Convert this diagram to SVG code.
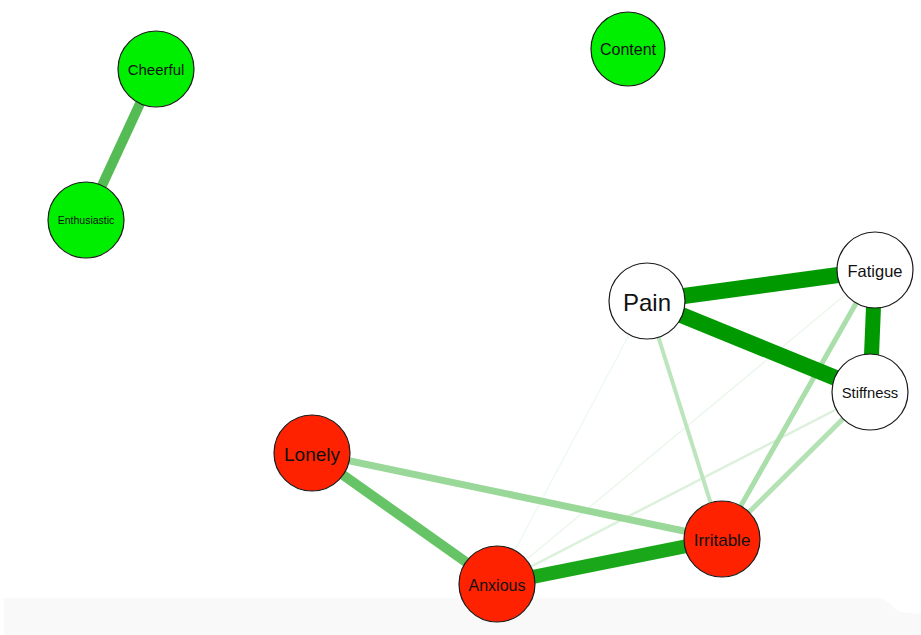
<svg xmlns="http://www.w3.org/2000/svg" width="921" height="635" viewBox="0 0 921 635">
<style>
.n{stroke:#1a1a1a;stroke-width:1.2}
.g{fill:#00ee00}.w{fill:#ffffff}.r{fill:#ff2200}
text{font-family:"Liberation Sans",Arial,sans-serif;fill:#111;text-anchor:middle;dominant-baseline:central}
line{stroke-linecap:butt}
</style>
<rect x="0" y="0" width="921" height="635" fill="#ffffff"/>
<path d="M4,598 H876 Q886,598 892,606 Q898,613 910,613 L921,614 V635 H4 Z" fill="#f9f9f9"/>
<g id="edges">
<line x1="156" y1="69" x2="86" y2="220" stroke="#55bb55" stroke-width="10"/>
<line x1="647" y1="301" x2="497" y2="584" stroke="#f0f9f0" stroke-width="1.5"/>
<line x1="875" y1="270" x2="497" y2="584" stroke="#ebf7eb" stroke-width="1.5"/>
<line x1="870" y1="392" x2="497" y2="584" stroke="#dcf1dc" stroke-width="2.5"/>
<line x1="647" y1="301" x2="722" y2="539" stroke="#bde5bd" stroke-width="4"/>
<line x1="875" y1="270" x2="722" y2="539" stroke="#aadeaa" stroke-width="5"/>
<line x1="870" y1="392" x2="722" y2="539" stroke="#b5e2b5" stroke-width="5"/>
<line x1="312" y1="453" x2="722" y2="539" stroke="#99d899" stroke-width="7"/>
<line x1="312" y1="453" x2="497" y2="584" stroke="#66c466" stroke-width="10"/>
<line x1="497" y1="584" x2="722" y2="539" stroke="#1aa81a" stroke-width="14"/>
<line x1="647" y1="301" x2="875" y2="270" stroke="#009900" stroke-width="16"/>
<line x1="647" y1="301" x2="870" y2="392" stroke="#009900" stroke-width="16"/>
<line x1="875" y1="270" x2="870" y2="392" stroke="#009900" stroke-width="15"/>
</g>
<g id="cheerful"><circle class="n g" cx="156" cy="69" r="38"/><text x="156" y="69" font-size="15">Cheerful</text></g>
<g id="enthusiastic"><circle class="n g" cx="86" cy="220" r="38"/><text x="86" y="220" font-size="10.5">Enthusiastic</text></g>
<g id="content"><circle class="n g" cx="628" cy="49" r="37"/><text x="628" y="49" font-size="16">Content</text></g>
<g id="pain"><circle class="n w" cx="647" cy="301" r="38"/><text x="647" y="302" font-size="24">Pain</text></g>
<g id="fatigue"><circle class="n w" cx="875" cy="270" r="38"/><text x="875" y="271" font-size="16.5">Fatigue</text></g>
<g id="stiffness"><circle class="n w" cx="870" cy="392" r="38"/><text x="870" y="393" font-size="14.8">Stiffness</text></g>
<g id="lonely"><circle class="n r" cx="312" cy="453" r="38"/><text x="312" y="454" font-size="19">Lonely</text></g>
<g id="anxious"><circle class="n r" cx="497" cy="584" r="38"/><text x="497" y="585" font-size="16">Anxious</text></g>
<g id="irritable"><circle class="n r" cx="722" cy="539" r="38"/><text x="722" y="540" font-size="17">Irritable</text></g>
</svg>
